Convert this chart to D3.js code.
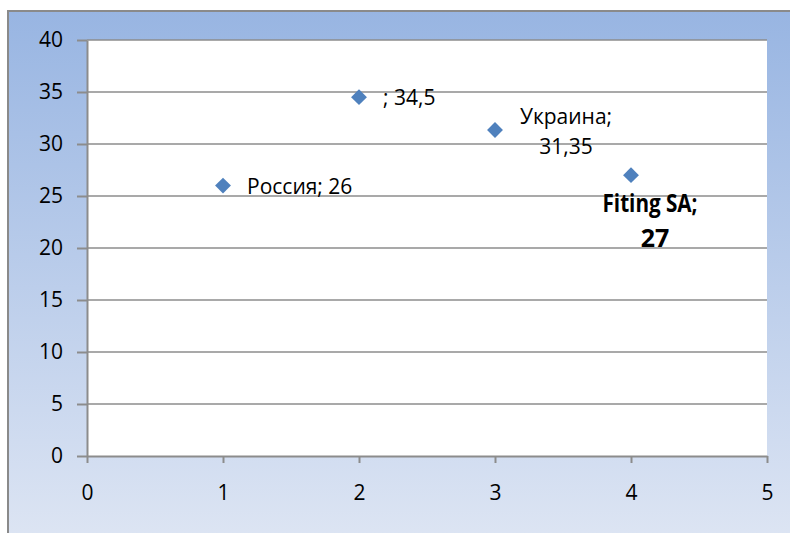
<!DOCTYPE html>
<html>
<head>
<meta charset="utf-8">
<script src="https://cdn.jsdelivr.net/npm/d3@7"></script>
<style>
  body { margin: 0; background: #fff; overflow: hidden; }
  text { font-family: "Open Sans", "Liberation Sans", sans-serif; }
</style>
</head>
<body>
<svg id="chart"></svg>
<script>
// data
var xValues = [1, 2, 3, 4];
var yValues = [26, 34.5, 31.35, 27];
var pointLabels = [["Россия; 26"], ["; 34,5"], ["Украина;", "31,35"], ["Fiting SA;", "27"]];
var xTicks = [0, 1, 2, 3, 4, 5];
var yTicks = [0, 5, 10, 15, 20, 25, 30, 35, 40];

var W = 790, H = 533;
var plot = {left: 87, right: 767, top: 40, bottom: 456};

var svg = d3.select("#chart").attr("width", W).attr("height", H).style("display", "block");

// background gradient
var defs = svg.append("defs");
var grad = defs.append("linearGradient").attr("id", "bg")
  .attr("x1", 0).attr("y1", 0).attr("x2", 0).attr("y2", 1);
grad.append("stop").attr("offset", "0%").attr("stop-color", "#98b5e2");
grad.append("stop").attr("offset", "100%").attr("stop-color", "#e0e7f4");

svg.append("rect")
  .attr("x", 8).attr("y", 11)
  .attr("width", W + 20).attr("height", H + 20)
  .attr("fill", "url(#bg)")
  .attr("stroke", "#8a8a8a").attr("stroke-width", 2);

svg.append("rect")
  .attr("x", plot.left).attr("y", plot.top)
  .attr("width", plot.right - plot.left).attr("height", plot.bottom - plot.top)
  .attr("fill", "#fff");

var x = d3.scaleLinear().domain([0, 5]).range([plot.left, plot.right]);
var y = d3.scaleLinear().domain([0, 40]).range([plot.bottom, plot.top]);

// gridlines
svg.append("g").selectAll("line")
  .data(yTicks.filter(function(d){ return d > 0; }))
  .enter().append("line")
  .attr("x1", plot.left).attr("x2", plot.right)
  .attr("y1", function(d){ return y(d); }).attr("y2", function(d){ return y(d); })
  .attr("stroke", "#8c8c8c").attr("stroke-width", 1.5);

// axes
var yAxis = svg.append("g")
  .attr("transform", "translate(" + plot.left + ",0)")
  .call(d3.axisLeft(y).tickValues(yTicks).tickSize(10).tickPadding(14).tickSizeOuter(0).tickFormat(d3.format("d")));
var xAxis = svg.append("g")
  .attr("transform", "translate(0," + plot.bottom + ")")
  .call(d3.axisBottom(x).tickValues(xTicks).tickSize(7).tickPadding(22).tickSizeOuter(0).tickFormat(d3.format("d")));

[yAxis, xAxis].forEach(function(g){
  g.select(".domain").attr("stroke", "#8c8c8c").attr("stroke-width", 2);
  g.selectAll(".tick line").attr("stroke", "#8c8c8c").attr("stroke-width", 2);
  g.selectAll(".tick text").attr("fill", "#000").style("font-size", "21px")
    .style("font-family", "'Open Sans', sans-serif");
});

// markers
var diamond = d3.symbol().type(d3.symbolDiamond2).size(160);
svg.append("g").selectAll("path")
  .data(xValues)
  .enter().append("path")
  .attr("d", diamond)
  .attr("transform", function(d, i){ return "translate(" + x(d) + "," + y(yValues[i]) + ")"; })
  .attr("fill", "#4f81bd");

// data labels (offsets from the point; last one is bold and bigger)
var labelPos = [
  {dx: [24], dy: 8, anchor: "start", size: 21, weight: "normal", lh: 30},
  {dx: [24], dy: 8, anchor: "start", size: 21, weight: "normal", lh: 30},
  {dx: [71, 71], dy: -6, anchor: "middle", size: 21, weight: "normal", lh: 30},
  {dx: [19, 24], dy: 37, anchor: "middle", size: 25, weight: "bold", lh: 35, fit: 95}
];
pointLabels.forEach(function(lines, i){
  var p = labelPos[i];
  var t = svg.append("text")
    .attr("x", x(xValues[i]) + p.dx[0])
    .attr("y", y(yValues[i]) + p.dy)
    .attr("text-anchor", p.anchor)
    .style("font-size", p.size + "px")
    .style("font-weight", p.weight)
    .attr("fill", "#000");
  lines.forEach(function(s, j){
    var ts = t.append("tspan").attr("x", x(xValues[i]) + p.dx[j]).attr("dy", j === 0 ? 0 : p.lh).text(s);
    if (p.fit && j === 0) ts.attr("textLength", p.fit).attr("lengthAdjust", "spacingAndGlyphs");
  });
});
</script>
</body>
</html>
